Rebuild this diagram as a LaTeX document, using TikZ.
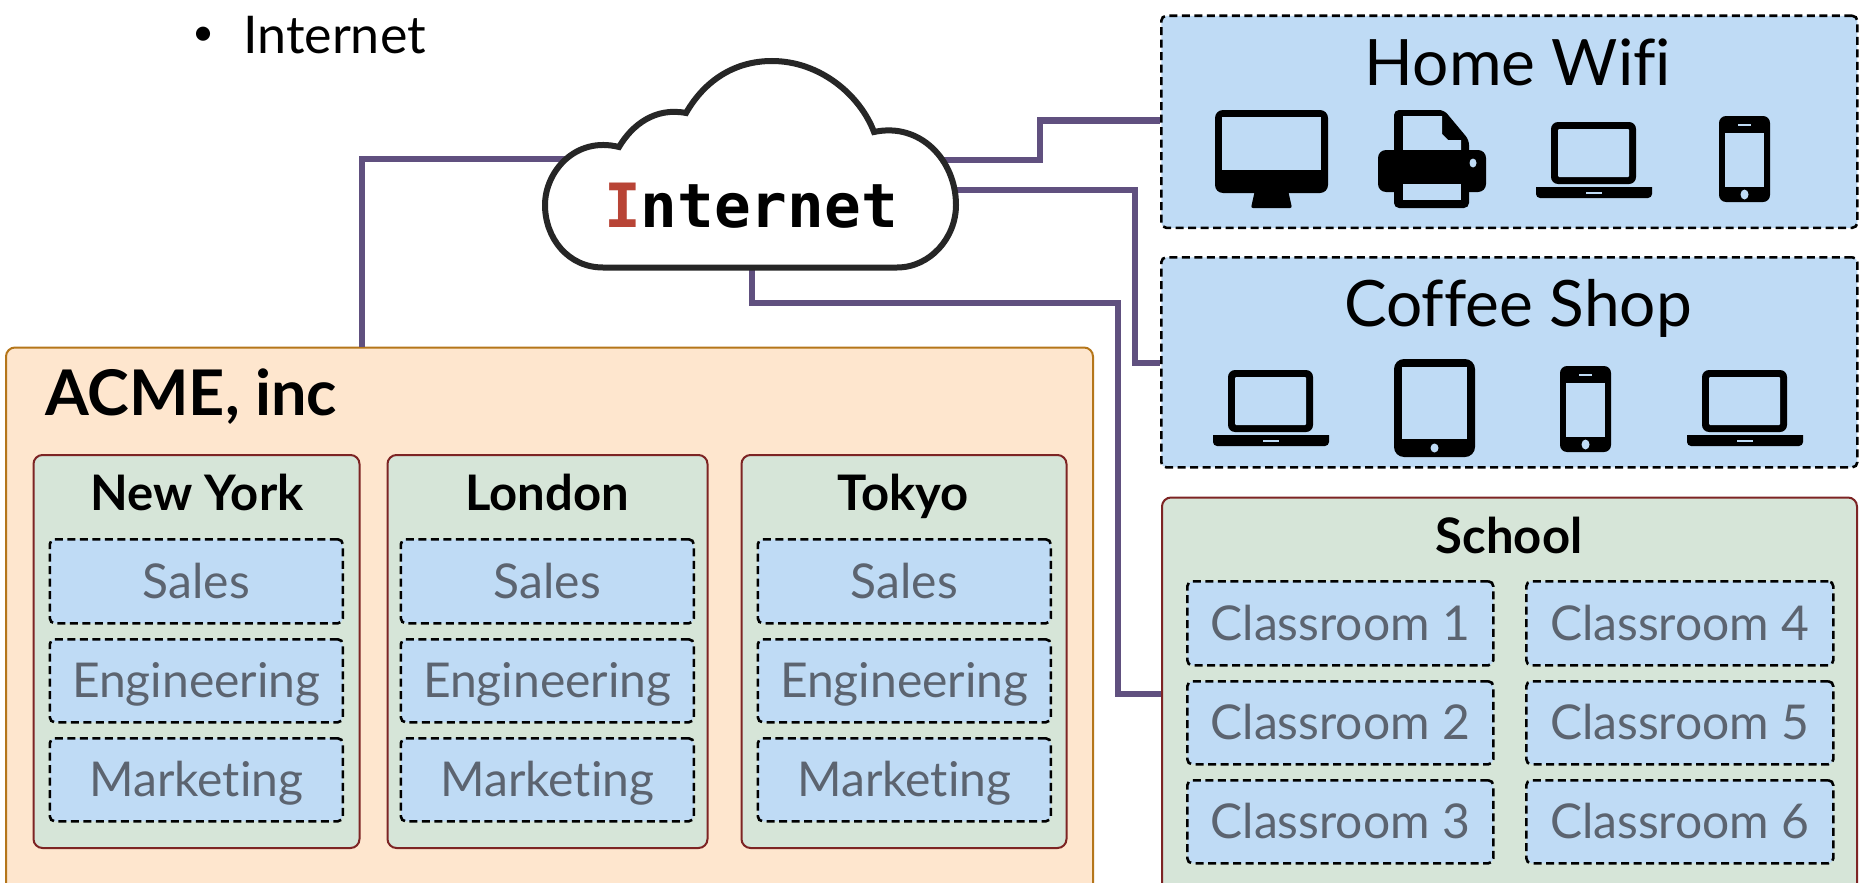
\documentclass[tikz,border=0pt]{standalone}
\usepackage{fontspec}
\setmainfont[RawFeature={-liga;-dlig}]{Lato}
\newfontfamily\monofam{DejaVu Sans Mono}
\definecolor{boxblue}{HTML}{BFDBF5}
\definecolor{boxgreen}{HTML}{D6E5D8}
\definecolor{boxorange}{HTML}{FEE6CE}
\definecolor{edgeorange}{HTML}{B5761A}
\definecolor{edgered}{HTML}{7D2424}
\definecolor{linkpurple}{HTML}{60507F}
\definecolor{softtext}{HTML}{5C6470}
\definecolor{ired}{HTML}{B84436}
\newcommand{\fs}[1]{\fontsize{#1}{#1}\selectfont}
\tikzset{
  x=1pt,y=-1pt,
  dashbox/.style={draw=black,fill=boxblue,line width=2.6pt,dash pattern=on 8pt off 4.5pt,rounded corners=5pt,inner sep=0pt,anchor=north west},
  panel/.style={draw=edgered,fill=boxgreen,line width=2pt,rounded corners=9pt,inner sep=0pt,anchor=north west},
  orgbox/.style={draw=edgeorange,fill=boxorange,line width=2pt,rounded corners=9pt,inner sep=0pt,anchor=north west},
  dept/.style={font=\fs{48},text=softtext,text height=34pt,text depth=0pt},
  heading/.style={font=\fs{49}\bfseries,text=black,text height=35pt,text depth=0pt},
  title/.style={font=\fs{64},text=black,text height=46pt,text depth=0pt},
  link/.style={draw=linkpurple,line width=6.5pt,line join=miter},
  ic/.style={fill=black,draw=none},
  ih/.style={fill=boxblue,draw=none},
  pics/laptop/.style={code={
    \fill[ic,rounded corners=7pt] (15,0) rectangle (100,62);
    \fill[ih,rounded corners=1pt] (22,7) rectangle (93,55);
    \fill[ic] (0,65) -- (116,65) -- (116,70) [rounded corners=4pt] -- (116,76) -- (0,76) [sharp corners] -- (0,70) -- cycle;
    \fill[ih] (50,69.5) rectangle (66,71.5);
  }},
  pics/monitor/.style={code={
    \fill[ic,rounded corners=8pt] (0,0) rectangle (113,83);
    \fill[ih] (7,7) rectangle (106,60);
    \fill[ic,rounded corners=2pt] (40,80) -- (73,80) -- (77,98) -- (36,98) -- cycle;
  }},
  pics/printer/.style={code={
    \fill[ic,rounded corners=5pt] (16,0) -- (66,0) -- (91,30) -- (91,50) -- (16,50) -- cycle;
    \fill[ih] (25,6) -- (64,6) -- (64,24) -- (70,30) -- (83,30) -- (83,49) -- (25,49) -- cycle;
    \fill[ic,rounded corners=8pt] (0,82) -- (0,40) -- (108,40) -- (108,82) -- cycle;
    \fill[ic] (25,49) rectangle (83,60);
    \fill[ic,rounded corners=5pt] (16,70) rectangle (91,98);
    \fill[ih] (25,74) rectangle (83,90);
    \fill[ih] (95,53) ellipse [x radius=3.5,y radius=4.5];
  }},
  pics/phone/.style={code={
    \fill[ic,rounded corners=7pt] (0,0) rectangle (51,86);
    \fill[ih] (6,17) rectangle (45,71);
    \fill[ih] (19,8) rectangle (32,10);
    \fill[ih] (25.5,78.5) ellipse [x radius=4,y radius=5];
  }},
  pics/tablet/.style={code={
    \fill[ic,rounded corners=10pt] (0,0) rectangle (81,98);
    \fill[ih] (8,8) rectangle (73,80);
    \fill[ih] (40.5,89) ellipse [x radius=4,y radius=4.5];
  }},
}
\begin{document}
\begin{tikzpicture}
\useasboundingbox (0,0) rectangle (1864,883);
\clip (0,0) rectangle (1864,883);
\fill[white] (0,0) rectangle (1864,883);

% bullet line
\node[font=\fs{38},inner sep=0pt] (bullet) at (204,36) {•};
\node[font=\fs{52},anchor=west,inner sep=0pt] (bullettext) at (243,35) {Internet};

% outer boxes
\node[dashbox,minimum width=696,minimum height=212] (home) at (1160,14.5) {};
\node[dashbox,minimum width=696,minimum height=210] (coffee) at (1160,256) {};
\node[panel,minimum width=695,minimum height=400] (school) at (1161,496.5) {};
\node[orgbox,minimum width=1087,minimum height=550] (acme) at (5,346.5) {};

\node[title] (hometitle) at (1518,62) {Home Wifi};
\node[title] (coffeetitle) at (1518,303) {Coffee Shop};
\node[font=\fs{63}\bfseries,anchor=west,inner sep=0pt] (acmetitle) at (45,397) {ACME, inc};
\node[heading] (schooltitle) at (1509,536) {School};

% offices
\node[panel,minimum width=326,minimum height=393] (ny) at (32.5,454) {};
\node[panel,minimum width=320,minimum height=393] (lon) at (386.5,454) {};
\node[panel,minimum width=325,minimum height=393] (tok) at (740.5,454) {};
\node[heading] (nyt) at (197,493) {New York};
\node[heading] (lont) at (547,493) {London};
\node[heading] (tokt) at (903,493) {Tokyo};

\foreach \nm/\xx in {ny/48.5,lon/399.5,tok/756.5}{
  \node[dashbox,minimum width=293,minimum height=84,dept] (\nm s) at (\xx,538) {Sales};
  \node[dashbox,minimum width=293,minimum height=83,dept] (\nm e) at (\xx,638) {Engineering};
  \node[dashbox,minimum width=293,minimum height=83,dept] (\nm m) at (\xx,737) {Marketing};
}

% classrooms
\node[dashbox,minimum width=306,minimum height=84,dept] (c1) at (1186,580) {Classroom 1};
\node[dashbox,minimum width=306,minimum height=83,dept] (c2) at (1186,680) {Classroom 2};
\node[dashbox,minimum width=306,minimum height=83,dept] (c3) at (1186,779) {Classroom 3};
\node[dashbox,minimum width=307,minimum height=84,dept] (c4) at (1525,580) {Classroom 4};
\node[dashbox,minimum width=307,minimum height=83,dept] (c5) at (1525,680) {Classroom 5};
\node[dashbox,minimum width=307,minimum height=83,dept] (c6) at (1525,779) {Classroom 6};

% icons
\pic at (1215,110) {monitor};
\pic at (1378,110) {printer};
\pic at (1536,122) {laptop};
\pic at (1719,116) {phone};
\pic at (1213,370) {laptop};
\pic at (1394,359) {tablet};
\pic at (1560,366) {phone};
\pic at (1687,370) {laptop};

% cloud anchor and connectors
\node[minimum width=415,minimum height=210,inner sep=0pt] (cloud) at (750.5,164) {};
\coordinate (acmeup) at (362,0 |- acme.north);
\coordinate (cloudA) at (570,159);
\coordinate (cloudB) at (940,160);
\coordinate (cloudC) at (950,190);
\coordinate (cloudD) at (752,0 |- cloud.south);
\coordinate (homeport) at (home.west |- 0,120.5);
\coordinate (coffeeport) at (coffee.west |- 0,363);
\coordinate (schoolport) at (school.west |- 0,694);
\draw[link] (acmeup) |- (cloudA);
\draw[link] (cloudB) -- (1040,160) -- (1040,120.5) -- (homeport);
\draw[link] (cloudC) -- (1135,190) -- (1135,363) -- (coffeeport);
\draw[link] (cloudD) -- (752,303) -- (1118,303) -- (1118,694) -- (schoolport);

% cloud
\draw[fill=white,draw=black!85,line width=6pt,line join=miter]
  (603,267.5)
  .. controls (568,267.5) and (545,238) .. (545,205)
  .. controls (545,172) and (575,136) .. (619,147)
  .. controls (632,125) and (655,107) .. (686,113)
  .. controls (705,80) and (735,61) .. (772,61)
  .. controls (820,61) and (860,95) .. (874,132)
  .. controls (920,122) and (956,160) .. (956,205)
  .. controls (956,238) and (930,267.5) .. (897,267.5)
  -- cycle;
\node[font=\monofam\fs{61}\bfseries,inner sep=0pt] (cloudtext) at (751,206) {\textcolor{ired}{I}nternet};
\end{tikzpicture}
\end{document}
